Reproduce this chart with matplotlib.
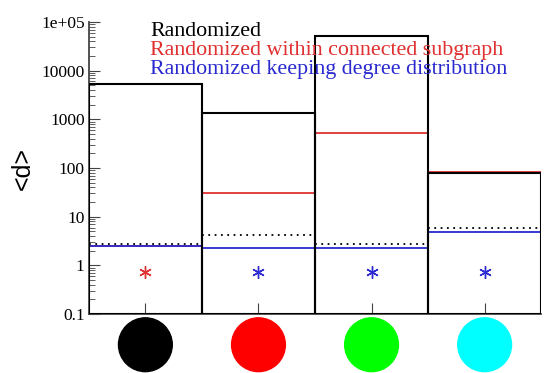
import numpy as np
import matplotlib
matplotlib.use("Agg")
import matplotlib.pyplot as plt
from matplotlib.ticker import LogLocator, FixedLocator, NullFormatter
import matplotlib.transforms as mtransforms

# data
groups = [1, 2, 3, 4]
group_colors = ["#000000", "#ff0000", "#00ff00", "#00ffff"]
randomized = [5400, 1350, 51000, 80]
within_subgraph = [2.5, 31, 520, 82]
keeping_degree = [2.5, 2.3, 2.3, 4.9]
observed = [2.7, 4.2, 2.8, 5.9]
star_level = [0.72, 0.72, 0.72, 0.72]
star_colors = ["#e03030", "#2a2ad0", "#2a2ad0", "#2a2ad0"]
ytick_values = [0.1, 1, 10, 100, 1000, 10000, 100000]
ytick_labels = ["0.1", "1", "10", "100", "1000", "10000", "1e+05"]

plt.rcParams["font.family"] = ["Liberation Serif", "DejaVu Serif"]

fig = plt.figure(figsize=(5.45, 3.73), dpi=100)
ax = fig.add_axes([0.163, 0.158, 0.83, 0.783])
ax.set_yscale("log")
ax.set_ylim(0.1, 1e5)
ax.set_xlim(0.5, 4.5)

x = np.array(groups, dtype=float)
left = x - 0.5
right = x + 0.5

# outline boxes for fully randomized networks
ax.bar(x, np.array(randomized) - 0.1, bottom=0.1, width=1.0, facecolor="none",
       edgecolor="black", lw=1.5, zorder=3)
ax.hlines(within_subgraph, left, right, colors="#e03030", lw=1.3, zorder=2)
ax.hlines(keeping_degree, left, right, colors="#2a2ad0", lw=1.3, zorder=2)
ax.hlines(observed, left, right, colors="black", lw=1.3, linestyles=(0, (1, 2.5)), zorder=2)
for xi, yi, c in zip(x, star_level, star_colors):
    ax.plot(xi, yi, marker=(6, 2, 0), ms=9, mew=1.0, color=c, ls="none", zorder=4)

# colored circles under the axis
trans = mtransforms.blended_transform_factory(ax.transData, ax.transAxes)
ax.scatter(x, [-0.105] * 4, s=1500, c=group_colors, transform=trans, clip_on=False)

for s in ["top", "right"]:
    ax.spines[s].set_visible(False)
for s in ["left", "bottom"]:
    ax.spines[s].set_color("#444444")
    ax.spines[s].set_linewidth(1.3)

ax.yaxis.set_major_locator(FixedLocator(ytick_values))
ax.set_yticklabels(ytick_labels)
ax.yaxis.set_minor_locator(LogLocator(base=10, subs=np.arange(2, 10)))
ax.yaxis.set_minor_formatter(NullFormatter())
ax.tick_params(axis="y", which="major", direction="in", length=8, color="#444444", labelsize=12.5, pad=3)
ax.tick_params(axis="y", which="minor", direction="in", length=4, color="#444444")
ax.set_xticks(x)
ax.set_xticklabels([])
ax.tick_params(axis="x", direction="in", length=8, color="#444444")

ax.set_ylabel("<d>", fontsize=18, family=["Liberation Sans", "DejaVu Sans"])
ax.yaxis.set_label_coords(-0.119, 0.5)

ax.text(0.135, 0.969, "Randomized", transform=ax.transAxes, fontsize=15.8, color="black", va="center")
ax.text(0.135, 0.904, "Randomized within connected subgraph", transform=ax.transAxes, fontsize=15.8,
        color="#e03030", va="center")
ax.text(0.135, 0.836, "Randomized keeping degree distribution", transform=ax.transAxes, fontsize=15.8,
        color="#2a2ad0", va="center")

fig.savefig("out.png", dpi=100)
